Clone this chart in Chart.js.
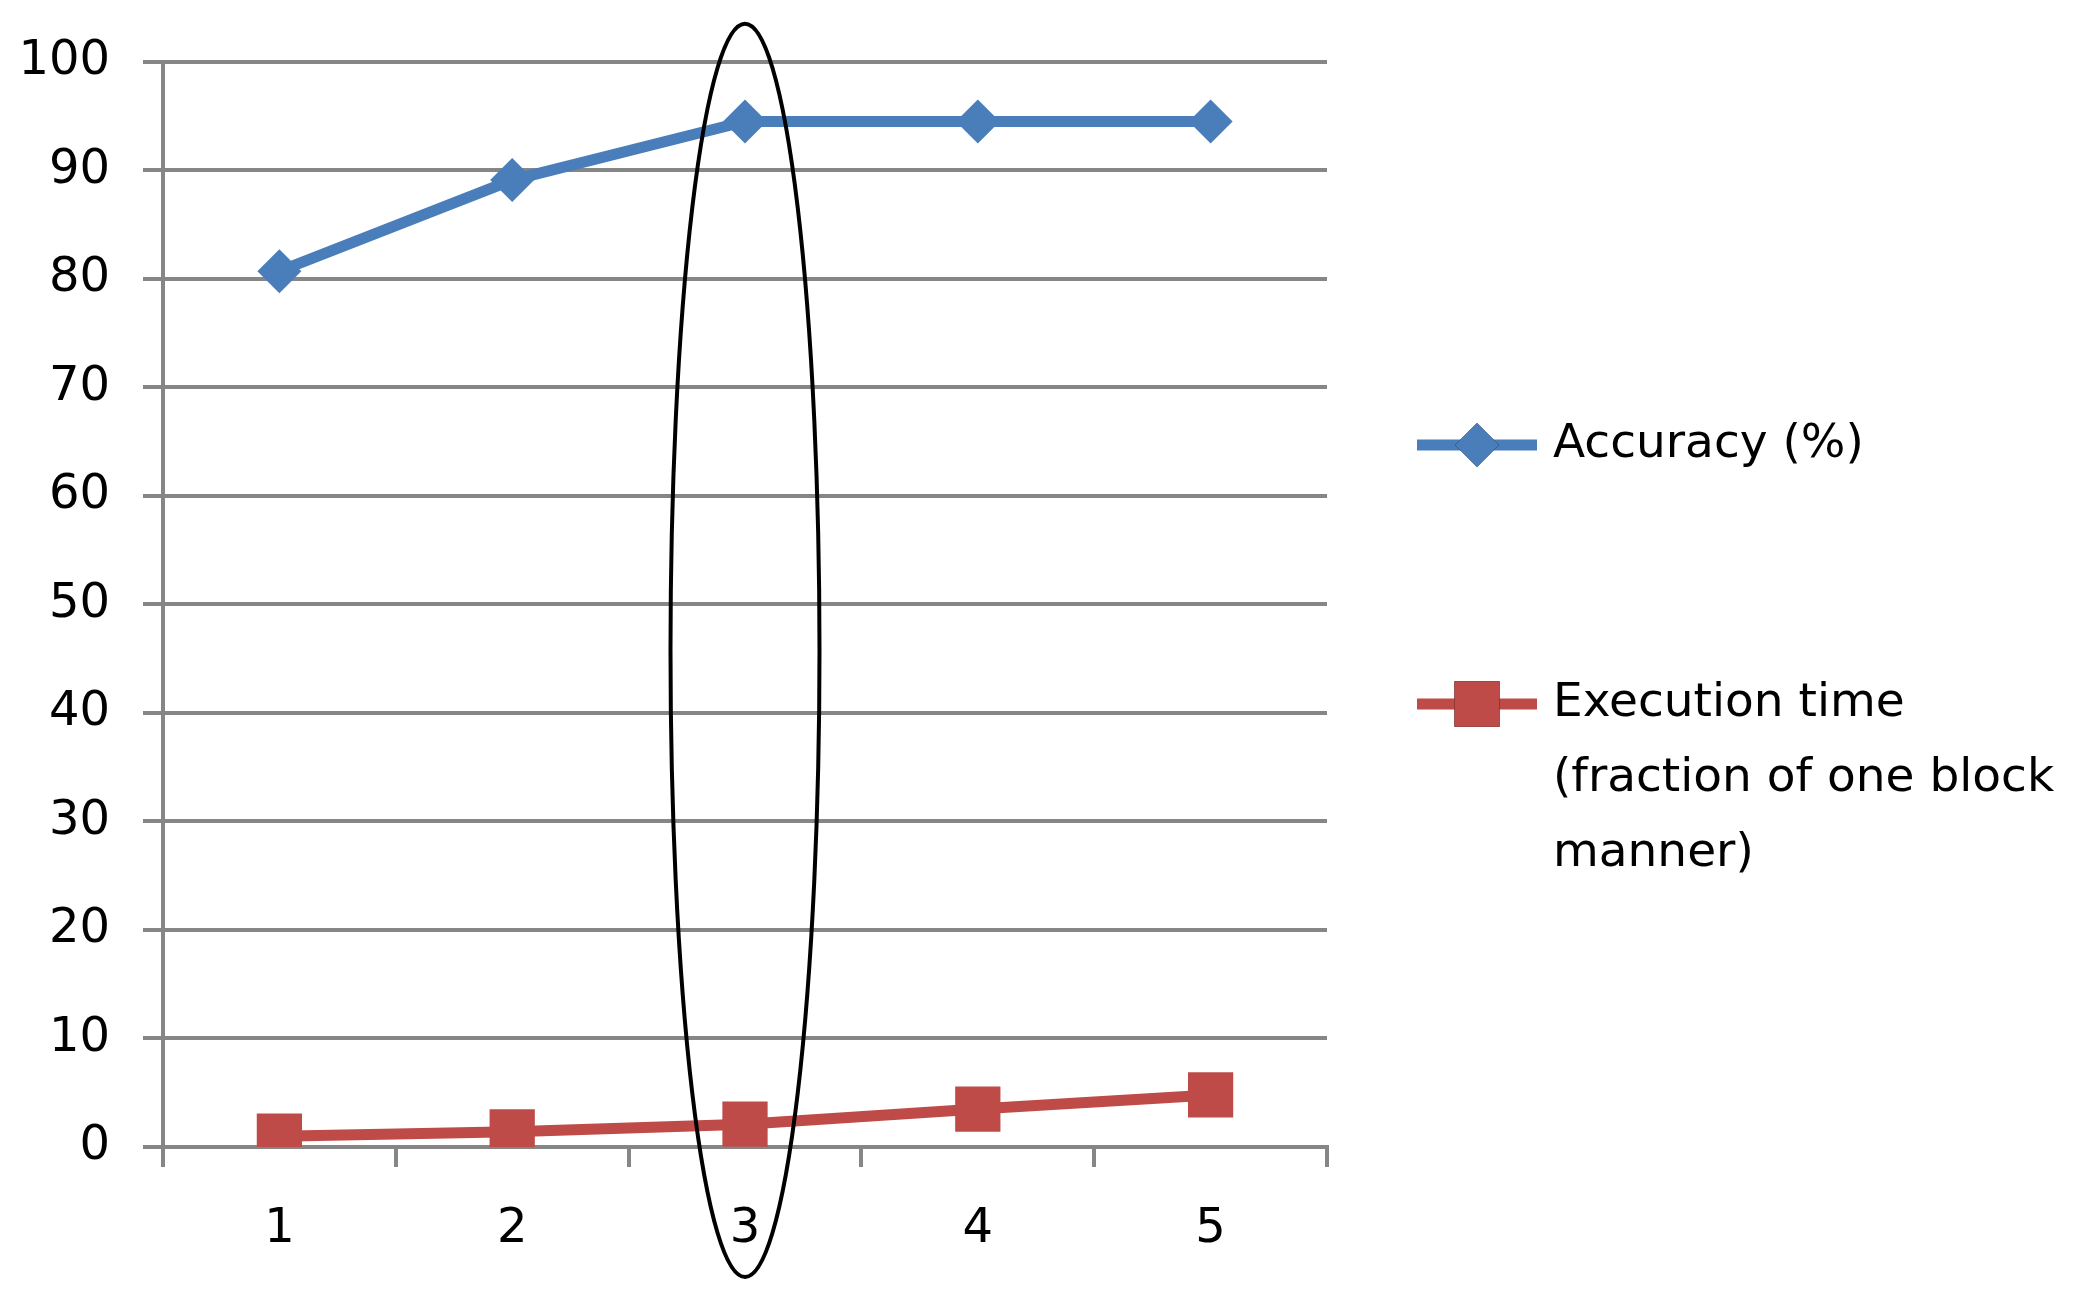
<!DOCTYPE html>
<html>
<head>
<meta charset="utf-8">
<script src="https://cdn.jsdelivr.net/npm/chart.js@4"></script>
<style>
  body { margin: 0; background: #fff; }
  #wrap { width: 2096px; height: 1301px; }
</style>
</head>
<body>
<div id="wrap"><canvas id="chart" width="2096" height="1301"></canvas></div>
<script>
const categories = ['1', '2', '3', '4', '5'];
const accuracy = [80.7, 89.1, 94.5, 94.5, 94.5];
const executionTime = [1.0, 1.4, 2.1, 3.5, 4.8];
const seriesNames = ['Accuracy (%)', 'Execution time (fraction of one block manner)'];
// legend text broken the way the original wraps it
const legendLines = [['Accuracy (%)'], ['Execution time', '(fraction of one block', 'manner)']];
const highlightIndex = 2;

const gridColor = '#868686';
const fontFamily = '"DejaVu Sans", Verdana, sans-serif';

// ellipse drawn round the highlighted category
const highlightPlugin = {
    id: 'highlight',
    afterDatasetsDraw(chart) {
        const x = chart.scales.x;
        const area = chart.chartArea;
        const cx = x.getPixelForValue(highlightIndex);
        const step = x.getPixelForValue(1) - x.getPixelForValue(0);
        const top = area.top - 38;
        const bottom = area.bottom + 130;
        const ctx = chart.ctx;
        ctx.save();
        ctx.beginPath();
        ctx.ellipse(cx, (top + bottom) / 2, step * 0.32, (bottom - top) / 2, 0, 0, Math.PI * 2);
        ctx.strokeStyle = '#000';
        ctx.lineWidth = 4;
        ctx.stroke();
        ctx.restore();
    }
};

// legend on the right, with wrapped lines
const sideLegend = {
    id: 'sideLegend',
    afterDraw(chart) {
        const ctx = chart.ctx;
        const area = chart.chartArea;
        const x0 = area.right + 90;
        const rows = [445, 704];
        ctx.save();
        chart.data.datasets.forEach((ds, i) => {
            const y = rows[i];
            ctx.strokeStyle = ds.borderColor;
            ctx.lineWidth = ds.borderWidth;
            ctx.beginPath();
            ctx.moveTo(x0, y);
            ctx.lineTo(x0 + 120, y);
            ctx.stroke();
            Chart.helpers.drawPoint(ctx, {
                pointStyle: ds.pointStyle,
                radius: ds.pointRadius,
                borderWidth: 0
            }, x0 + 60, y);
            ctx.fillStyle = ds.pointBackgroundColor;
            ctx.fill();
            ctx.fillStyle = '#000';
            ctx.font = '47px ' + fontFamily;
            ctx.textBaseline = 'middle';
            legendLines[i].forEach((line, j) => {
                ctx.fillText(line, x0 + 136, y + j * 75);
            });
        });
        ctx.restore();
    }
};

new Chart(document.getElementById('chart'), {
    type: 'line',
    data: {
        labels: categories,
        datasets: [{
            label: seriesNames[0],
            data: accuracy,
            borderColor: '#4A7EBB',
            backgroundColor: '#4A7EBB',
            pointBackgroundColor: '#4A7EBB',
            borderWidth: 11,
            pointStyle: 'rectRot',
            pointRadius: 22,
            pointBorderWidth: 0,
            tension: 0
        }, {
            label: seriesNames[1],
            data: executionTime,
            borderColor: '#BE4B48',
            backgroundColor: '#BE4B48',
            pointBackgroundColor: '#BE4B48',
            borderWidth: 11,
            pointStyle: 'rect',
            pointRadius: 32,
            pointBorderWidth: 0,
            tension: 0
        }]
    },
    options: {
        responsive: false,
        animation: false,
        layout: {
            padding: { left: 20, top: 53, right: 769, bottom: 0 }
        },
        plugins: {
            legend: { display: false },
            tooltip: { enabled: false }
        },
        scales: {
            x: {
                offset: true,
                afterFit(scale) { scale.height = 154; },
                grid: {
                    offset: true,
                    drawOnChartArea: false,
                    color: gridColor,
                    lineWidth: 4,
                    tickLength: 20
                },
                border: { color: gridColor, width: 4 },
                ticks: {
                    color: '#000',
                    padding: 34,
                    font: { family: fontFamily, size: 48 }
                }
            },
            y: {
                min: 0,
                max: 100,
                afterFit(scale) { scale.width = 143; },
                ticks: {
                    stepSize: 10,
                    color: '#000',
                    padding: 33,
                    font: { family: fontFamily, size: 48 }
                },
                grid: {
                    color: gridColor,
                    lineWidth: 4,
                    tickLength: 20
                },
                border: { color: gridColor, width: 4 }
            }
        }
    },
    plugins: [highlightPlugin, sideLegend]
});
</script>
</body>
</html>
